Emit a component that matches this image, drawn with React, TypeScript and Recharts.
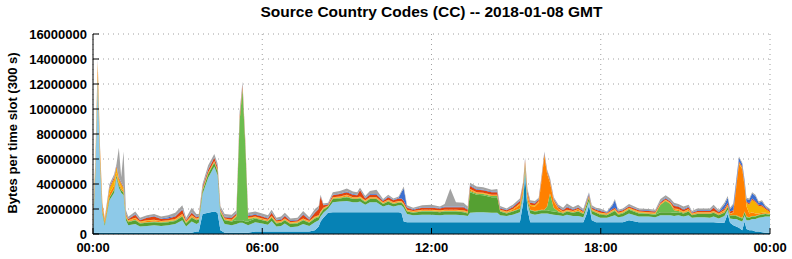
import React from 'react';
import { AreaChart, Area, XAxis, YAxis, CartesianGrid } from 'recharts';

// time of slot in minutes since 00:00
const times = [
  0, 5, 10, 15, 20, 25, 35, 45, 50, 55,
  60, 65, 70, 75, 90, 100, 115, 130, 145, 160,
  175, 190, 198, 210, 220, 225, 233, 245, 258, 265,
  271, 280, 295, 305, 312, 318, 324, 330, 345, 360,
  372, 380, 390, 400, 408, 420, 435, 447, 460, 472,
  480, 484, 490, 500, 510, 525, 540, 553, 562, 568,
  579, 589, 603, 617, 628, 639, 650, 656, 661, 668,
  681, 700, 720, 738, 748, 760, 772, 788, 797, 802,
  816, 830, 848, 860, 866, 880, 893, 908, 915, 919,
  924, 930, 940, 948, 954, 960, 966, 972, 980, 990,
  1000, 1008, 1021, 1032, 1043, 1050, 1055, 1061, 1070, 1079,
  1093, 1105, 1110, 1117, 1127, 1140, 1161, 1182, 1196, 1207,
  1218, 1228, 1236, 1245, 1256, 1267, 1274, 1285, 1300, 1312,
  1320, 1331, 1343, 1350, 1355, 1362, 1368, 1374, 1381, 1386,
  1390, 1396, 1402, 1409, 1416, 1423, 1430, 1440,
];

// values in millions of bytes per slot
const darkBlue = [
  .1, .1, .1, .1, .1, .1, .1, .1, .1, .1,
  .1, .1, .1, .1, .1, .1, .1, .1, .1, .1,
  .1, .1, .1, .1, .2, .2, 1.6, 1.7, 1.8, 1.7,
  .3, .1, .1, .1, .1, .1, .1, .1, .2, .2,
  .2, .2, .2, .2, .2, .2, .2, .2, .2, .3,
  .6, 1.0, 1.3, 1.7, 1.75, 1.75, 1.75, 1.75, 1.75, 1.75,
  1.75, 1.75, 1.75, 1.75, 1.75, 1.75, 1.75, 1.7, 1.0, .95,
  .95, .95, .95, .95, .95, .95, .95, .95, .95, .95,
  .95, .95, .95, .95, .95, .95, .95, .95, 2.5, 4.8,
  2.0, .95, .95, .95, .95, .95, .95, .95, .95, .95,
  .95, .95, .95, .95, .95, 1.6, 2.3, 1.1, .95, .95,
  .95, .95, .95, .95, .95, 1.1, .95, .95, .95, .95,
  .95, .95, .95, .95, .95, .95, .95, .95, .95, .95,
  .95, .9, .9, 1.6, .9, .7, .6, .5, .3, 1.0,
  .4, .3, .3, .2, .2, .15, .1, .1,
];
const lightBlue = [
  .23, 4.6, 12.2, 5.5, 1.48, .55, 2.6, 3.2, 4.4, 3.6,
  3.2, 3.0, 1.0, .6, .7, .5, .55, .6, .55, .6,
  .7, 1.0, .5, .9, .6, .7, 1.6, 2.8, 3.6, 3.0,
  1.2, .7, .6, .7, .8, .8, .7, .6, .75, .65,
  .55, .85, .4, .45, .65, .35, .4, .6, .45, .65,
  .5, .4, .4, .35, .8, .85, .9, .8, .8, .85,
  .6, .8, .8, .45, .6, .45, .55, .6, 1.1, .65,
  .55, .6, .6, .55, .6, .6, .6, .55, .5, .75,
  .8, .8, .75, .75, .55, .5, .6, .8, .6, .4,
  .5, .7, .6, .65, .7, .7, .7, .65, .6, .55,
  .5, .6, .5, .5, .4, .5, .35, .5, .5, .35,
  .35, .5, .55, .4, .45, .55, .45, .45, .4, .55,
  .55, .55, .5, .55, .45, .55, .35, .4, .4, .35,
  .45, .35, .55, .35, .35, .5, .6, .6, .7, .5,
  .7, .8, .9, 1.0, 1.1, 1.2, 1.3, 1.3,
];
const darkGreen = [
  .2, .3, .3, .25, .2, .15, .2, .25, .2, .2,
  .2, .2, .2, .25, .3, .25, .25, .25, .25, .25,
  .25, .3, .25, .3, .3, .25, .25, .3, .3, .3,
  .25, .3, .3, .3, .2, .2, .2, .3, .3, .25,
  .25, .25, .25, .25, .25, .25, .25, .3, .25, .3,
  .25, .25, .25, .15, .25, .25, .3, .25, .25, .25,
  .2, .25, .25, .2, .25, .2, .2, .2, .2, .2,
  .2, .25, .25, .25, .25, .25, .25, .25, .2, 1.65,
  1.4, 1.35, 1.25, 1.25, .3, .2, .25, .25, .25, .25,
  .25, .25, .25, .25, .25, .25, .25, .25, .25, .25,
  .2, .25, .25, .35, .25, .25, .25, .25, .25, .25,
  .2, .3, .35, .2, .25, .3, .25, .2, .2, .25,
  .25, .25, .25, .25, .25, .3, .2, .25, .25, .3,
  .3, .25, .25, .2, .2, .25, .25, .25, .25, .25,
  .25, .2, .2, .2, .2, .2, .2, .15,
];
const lightGreen = [
  .05, .05, .05, .05, .05, .05, .05, .05, .05, .05,
  .05, .05, .05, .05, .05, .05, .05, .05, .05, .05,
  .05, .05, .05, .05, .05, .05, .05, .05, .05, .05,
  .05, .05, .05, .3, 8.0, 10.5, 6.0, .2, .05, .05,
  .05, .05, .05, .05, .05, .05, .05, .05, .05, .05,
  .05, .05, .05, .03, .05, .05, .05, .05, .05, .05,
  .05, .05, .05, .05, .05, .05, .05, .05, .05, .05,
  .05, .05, .05, .05, .05, .05, .05, .05, .05, .1,
  .1, .1, .1, .1, .05, .05, .05, .05, .05, .05,
  .05, .05, .05, .05, .05, .05, .3, 1.4, .3, .05,
  .05, .05, .05, .05, .05, .05, .05, .05, .05, .05,
  .05, .05, .05, .05, .05, .05, .05, .05, .05, .6,
  .9, .65, .2, .1, .05, .05, .05, .05, .05, .05,
  .05, .05, .05, .05, .05, .05, .05, .05, .05, .05,
  .05, .05, .05, .05, .05, .05, .05, .05,
];
const orange = [
  .2, .4, .8, .6, .4, .2, .3, .3, .15, .15,
  .15, .1, .05, .05, .1, .05, .1, .1, .05, .05,
  .05, .1, .05, .1, .05, .05, .05, .05, .05, .05,
  .05, .05, .05, .05, .1, .1, .1, .05, .05, .05,
  .05, .05, .05, .05, .05, .05, .05, .05, .05, .05,
  .05, .05, .05, .03, .05, .05, .1, .05, .05, .05,
  .05, .05, .05, .05, .05, .05, .05, .05, .05, .05,
  .05, .05, .05, .05, .05, .05, .05, .05, .05, .1,
  .05, .05, .05, .05, .05, .05, .1, .3, .3, .2,
  .3, .3, .35, .6, 2.3, 4.3, 2.6, .9, .5, .2,
  .05, .05, .05, .1, .05, .05, .05, .05, .05, .05,
  .05, .05, .05, .05, .05, .05, .05, .05, .05, .05,
  .05, .05, .1, .1, .05, .1, .05, .05, .05, .05,
  .05, .05, .1, .1, .1, .2, 2.2, 4.2, 3.9, 2.0,
  .8, .3, .3, .2, .1, .1, .05, .05,
];
const yellow = [
  .1, .2, .2, .2, .1, .1, .4, .5, .45, .3,
  .3, .2, .1, .05, .05, .05, .05, .05, .05, .05,
  .05, .05, .05, .05, .05, .05, .05, .05, .05, .05,
  .05, .05, .05, .05, .05, .05, .05, .05, .05, .05,
  .05, .05, .05, .05, .05, .05, .05, .05, .05, .05,
  .05, .05, .05, .03, .05, .05, .05, .05, .05, .05,
  .05, .05, .05, .05, .05, .05, .05, .05, .05, .05,
  .05, .05, .05, .05, .05, .05, .05, .05, .05, .05,
  .05, .05, .05, .05, .05, .05, .05, .1, .1, .1,
  .1, .1, .1, .1, .1, .1, .1, .1, .1, .05,
  .05, .05, .05, .05, .05, .05, .05, .05, .05, .05,
  .05, .05, .05, .05, .05, .05, .05, .05, .05, .05,
  .05, .05, .05, .05, .05, .05, .05, .05, .05, .05,
  .05, .05, .05, .05, .05, .05, .1, .1, .1, .15,
  .3, .7, 1.0, .9, .6, .5, .3, .1,
];
const red = [
  .1, .1, .1, .1, .05, .05, .1, .15, .1, .1,
  .1, .1, .1, .1, .25, .1, .2, .25, .15, .15,
  .2, .35, .1, .2, .1, .1, .15, .2, .25, .2,
  .1, .1, .15, .15, .2, .2, .15, .15, .15, .15,
  .1, .25, .1, .1, .2, .1, .1, .3, .1, .3,
  .5, 1.2, .2, .08, .15, .2, .2, .2, .15, .5,
  .15, .2, .2, .1, .2, .15, .2, .2, .2, .15,
  .1, .15, .15, .15, .2, .2, .2, .25, .15, .25,
  .2, .2, .2, .2, .1, .1, .15, .2, .2, .15,
  .2, .15, .15, .15, .15, .1, .1, .1, .1, .1,
  .1, .2, .1, .1, .1, .1, .1, .1, .1, .15,
  .05, .1, .1, .1, .1, .1, .1, .1, .1, .1,
  .1, .1, .2, .2, .15, .15, .05, .1, .1, .1,
  .25, .1, .15, .15, .15, .15, .1, .1, .1, .1,
  .1, .1, .1, .1, .1, .1, .1, .1,
];
const blue = [
  .02, .05, .05, .05, .02, .02, .03, .03, .03, .05,
  .05, .05, .03, .03, .05, .05, .05, .05, .05, .1,
  .05, .05, .05, .05, .05, .05, .05, .05, .05, .05,
  .05, .05, .05, .05, .05, .05, .05, .05, .05, .05,
  .05, .05, .05, .05, .05, .05, .05, .05, .05, .05,
  .05, .05, .05, .03, .05, .05, .05, .05, .05, .05,
  .05, .05, .05, .05, .05, .05, .05, .5, 1.0, .05,
  .05, .05, .05, .05, .05, .05, .05, .05, .05, .05,
  .05, .05, .05, .05, .05, .05, .05, .05, .05, .05,
  .05, .05, .05, .05, .05, .05, .05, .05, .05, .05,
  .05, .05, .05, .05, .05, .1, .1, .05, .05, .05,
  .05, .3, .6, .05, .05, .05, .05, .05, .05, .05,
  .05, .05, .05, .05, .05, .05, .05, .05, .05, .05,
  .05, .05, .3, .4, .2, .4, .3, .3, .2, .2,
  .2, .3, .4, .4, .15, .3, .1, .05,
];
const gray = [
  .1, .2, .2, .15, .1, .08, .2, .2, .12, 2.35,
  .4, 2.8, .3, .15, .2, .15, .15, .15, .15, .15,
  .25, .3, .15, .35, .2, .15, .2, .3, .25, .25,
  .2, .2, .2, .2, .3, .2, .2, .2, .2, .2,
  .2, .2, .15, .2, .2, .15, .15, .25, .15, .25,
  .2, .1, .1, .1, .2, .2, .25, .2, .2, .15,
  .15, .25, .35, .1, .15, .1, .1, .1, .15, .15,
  .1, .15, .2, .1, .2, 1.45, .35, .3, .2, .2,
  .2, .2, .15, .2, .15, .1, .15, .15, .15, .1,
  .2, .15, .15, .1, .1, .1, .1, .1, .1, .15,
  .15, .25, .15, .2, .1, .15, .1, .15, .1, .15,
  .05, .1, .1, .1, .1, .15, .1, .1, .1, .2,
  .2, .2, .2, .15, .2, .15, .1, .15, .15, .15,
  .2, .1, .15, .15, .1, .15, .1, .1, .1, .1,
  .1, .1, .1, .1, .1, .1, .1, .1,
];

const xTicks = [0, 360, 720, 1080, 1440];
const xTickLabels = ['00:00', '06:00', '12:00', '18:00', '00:00'];
const yTicks = [0, 2000000, 4000000, 6000000, 8000000, 10000000, 12000000, 14000000, 16000000];

const MB = 1000000;

const series = [
  { key: 'darkBlue', values: darkBlue, color: '#0682b5' },
  { key: 'lightBlue', values: lightBlue, color: '#8dc9e8' },
  { key: 'darkGreen', values: darkGreen, color: '#55a032' },
  { key: 'lightGreen', values: lightGreen, color: '#6cbd4e' },
  { key: 'orange', values: orange, color: '#ff8000' },
  { key: 'yellow', values: yellow, color: '#f7b100' },
  { key: 'red', values: red, color: '#e2430e' },
  { key: 'blue', values: blue, color: '#3d6fcf' },
  { key: 'gray', values: gray, color: '#a3a3a3' },
];

const data = times.map((t, i) => {
  const row: Record<string, number> = { t };
  series.forEach((s) => {
    row[s.key] = Math.round(s.values[i] * MB);
  });
  return row;
});

const FONT = "'Liberation Sans', Arial, Helvetica, sans-serif";
const yTickStyle = { fontFamily: FONT, fontWeight: 'bold', fontSize: 13, fill: '#000' } as any;
const xTickStyle = { fontFamily: FONT, fontWeight: 'bold', fontSize: 13, fill: '#000' } as any;

export default function App() {
  return (
    <div style={{ position: 'absolute', left: 0, top: 0, width: 792, height: 259, background: '#fff' }}>
      <div
        style={{
          position: 'absolute', left: 93, top: 2, width: 677, textAlign: 'center',
          fontFamily: FONT, fontWeight: 'bold', fontSize: 15.5, lineHeight: '20px', color: '#000',
        }}
      >
        Source Country Codes (CC) -- 2018-01-08 GMT
      </div>
      <div
        style={{
          position: 'absolute', left: 12.5 - 110, top: 133 - 9, width: 220, height: 18,
          textAlign: 'center', lineHeight: '18px', transform: 'rotate(-90deg)',
          fontFamily: FONT, fontWeight: 'bold', fontSize: 13, color: '#000', whiteSpace: 'nowrap',
        }}
      >
        Bytes per time slot (300 s)
      </div>
      <AreaChart
        width={792}
        height={259}
        data={data}
        margin={{ top: 34, right: 22, bottom: 0, left: 0 }}
      >
        <CartesianGrid stroke="#a0a0a0" strokeDasharray="1 4" />
        {series.map((s) => (
          <Area
            key={s.key}
            dataKey={s.key}
            stackId="1"
            type="linear"
            fill={s.color}
            fillOpacity={1}
            stroke="none"
            isAnimationActive={false}
            dot={false}
            activeDot={false}
          />
        ))}
        <XAxis
          dataKey="t"
          type="number"
          domain={[0, 1440]}
          ticks={xTicks}
          interval={0}
          tickFormatter={(v: number) => xTickLabels[xTicks.indexOf(v)]}
          height={25}
          stroke="#000"
          tickSize={-6}
          tickMargin={15}
          tick={xTickStyle}
          axisLine={{ stroke: '#000' }}
          tickLine={{ stroke: '#000' }}
        />
        <XAxis
          xAxisId="top"
          orientation="top"
          dataKey="t"
          type="number"
          domain={[0, 1440]}
          ticks={xTicks}
          interval={0}
          height={0}
          tickSize={-6}
          tick={false}
          axisLine={{ stroke: '#000' }}
          tickLine={{ stroke: '#000' }}
        />
        <YAxis
          type="number"
          domain={[0, 16000000]}
          ticks={yTicks}
          interval={0}
          width={93}
          tickSize={-6}
          tickMargin={12}
          tick={yTickStyle}
          axisLine={{ stroke: '#000' }}
          tickLine={{ stroke: '#000' }}
        />
        <YAxis
          yAxisId="right"
          orientation="right"
          type="number"
          domain={[0, 16000000]}
          ticks={yTicks}
          interval={0}
          width={0}
          tickSize={-6}
          tick={false}
          axisLine={{ stroke: '#000' }}
          tickLine={{ stroke: '#000' }}
        />
      </AreaChart>
    </div>
  );
}
